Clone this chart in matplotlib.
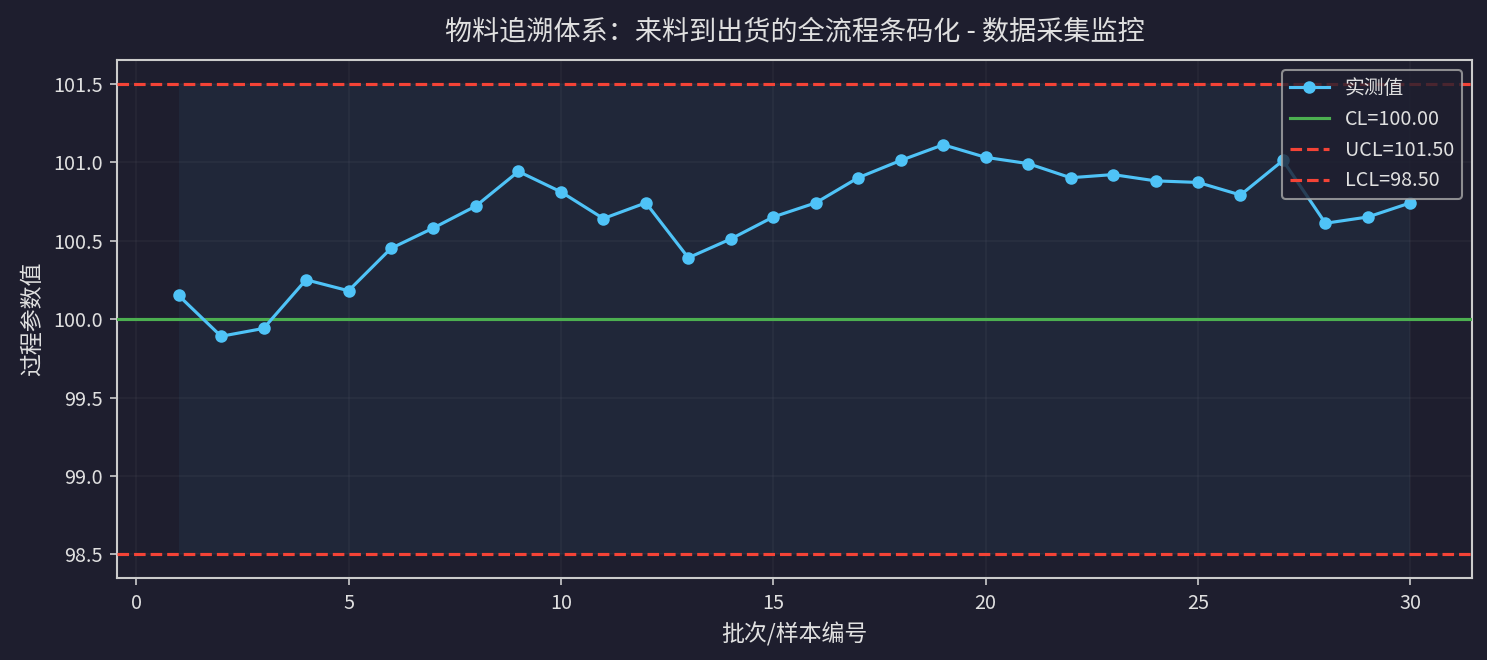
import matplotlib
matplotlib.use("Agg")
import matplotlib.pyplot as plt
import numpy as np

plt.rcParams['font.family'] = ['Noto Sans CJK SC', 'DejaVu Sans']
plt.rcParams['axes.unicode_minus'] = False

samples = list(range(1, 31))
values = [100.15, 99.89, 99.94, 100.25, 100.18, 100.45, 100.58, 100.72, 100.94, 100.81,
          100.64, 100.74, 100.39, 100.51, 100.65, 100.74, 100.90, 101.01, 101.11, 101.03,
          100.99, 100.90, 100.92, 100.88, 100.87, 100.79, 101.01, 100.61, 100.65, 100.74]
CL = 100.00
UCL = 101.50
LCL = 98.50

title = "物料追溯体系：来料到出货的全流程条码化 - 数据采集监控"
xlabel = "批次/样本编号"
ylabel = "过程参数值"
series_label = "实测值"

BG = '#1e1e2e'
TXT = '#e0e0e0'
SPINE = '#cccccc'

fig = plt.figure(figsize=(1487 / 150, 660 / 150), dpi=150, facecolor=BG)
ax = fig.add_axes([0.0787, 0.1242, 0.9899 - 0.0787, 0.9091 - 0.1242])
ax.set_facecolor(BG)

ax.fill_between(samples, LCL, UCL, color='#4fc3f7', alpha=0.06, linewidth=0, zorder=1)
ax.plot(samples, values, color='#4fc3f7', linewidth=1.5, marker='o', markersize=5,
        label=series_label, zorder=4)
ax.axhline(CL, color='#4caf50', linewidth=1.5, label=f'CL={CL:.2f}', zorder=3)
ax.axhline(UCL, color='#f44336', linewidth=1.5, linestyle='--', label=f'UCL={UCL:.2f}', zorder=3)
ax.axhline(LCL, color='#f44336', linewidth=1.5, linestyle='--', label=f'LCL={LCL:.2f}', zorder=3)

ax.grid(True, color='#ffffff', alpha=0.035, linewidth=0.8)
ax.set_axisbelow(True)

ax.set_xticks([0, 5, 10, 15, 20, 25, 30])
ax.set_yticks([98.5, 99.0, 99.5, 100.0, 100.5, 101.0, 101.5])
ax.yaxis.set_major_formatter(matplotlib.ticker.FormatStrFormatter('%.1f'))

for s in ax.spines.values():
    s.set_color(SPINE)
    s.set_linewidth(1.0)
ax.tick_params(colors=SPINE, labelcolor=TXT, labelsize=9.5)

ax.set_title(title, color=TXT, fontsize=13, pad=10)
ax.set_xlabel(xlabel, color=TXT, fontsize=11)
ax.set_ylabel(ylabel, color=TXT, fontsize=11)

leg = ax.legend(loc='upper right', fontsize=9.5, facecolor=BG, edgecolor='#aaaaaa',
                framealpha=0.8, labelcolor=TXT)

fig.savefig('out.png', dpi=150, facecolor=BG)
